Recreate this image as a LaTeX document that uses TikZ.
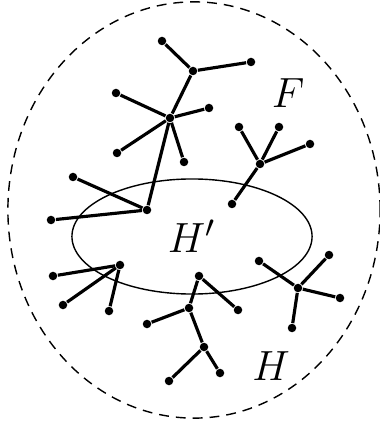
\documentclass[tikz,border=0pt]{standalone}
\usetikzlibrary{positioning}
\tikzset{
  every picture/.style={line width=0.4pt},
  dot/.style={circle, fill=black, inner sep=0pt, minimum size=0.085cm},
  edge/.style={draw=black, line width=0.9pt},
  region/.style={draw=black, dash pattern=on 2.8pt off 2pt},
  setlabel/.style={font=\fontsize{12.5}{15}\selectfont},
}
\begin{document}
\begin{tikzpicture}[x=0.01cm, y=-0.01cm]
  \useasboundingbox (0,0) rectangle (379,425);
  % outer region and the subgraph H'
  \draw[region] (194,210) ellipse [x radius=1.86cm, y radius=2.08cm];
  \draw (192,236.5) ellipse [x radius=1.2cm, y radius=0.575cm];
  % vertices
  \foreach \n/\x/\y in {a1/193/71, a2/162/41, a3/251/62, b0/170/118, b1/116/93,
      b2/209/108, b3/117/153, b4/184/162, c0/147/210, c1/73/177, c2/51/220,
      d0/260/164, d1/239/127, d2/279/127, d3/310/144, d4/232/204,
      e0/120/265, e1/53/276, e2/63/305, e3/109/311,
      g0/199/276, g1/238/310, g2/189/308, g3/147/324, g4/204/347, g5/220/373, g6/169/381,
      m0/298/288, m1/259/261, m2/329/255, m3/340/298, m4/292/328}
    \node[dot] (\n) at (\x,\y) {};
  % tree edges
  \foreach \a/\b in {a1/a2, a1/a3, a1/b0, b0/b1, b0/b2, b0/b3, b0/b4, b0/c0, c0/c1, c0/c2,
      d0/d1, d0/d2, d0/d3, d0/d4, e0/e1, e0/e2, e0/e3,
      g0/g1, g0/g2, g2/g3, g2/g4, g4/g5, g4/g6,
      m0/m1, m0/m2, m0/m3, m0/m4}
    \draw[edge] (\a) -- (\b);
  % labels
  \node[setlabel] (lF) at (288,93) {$F$};
  \node[setlabel] (lHp) at (192,236) {$H'$};
  \node[setlabel] (lH) at (271,366) {$H$};
\end{tikzpicture}
\end{document}
